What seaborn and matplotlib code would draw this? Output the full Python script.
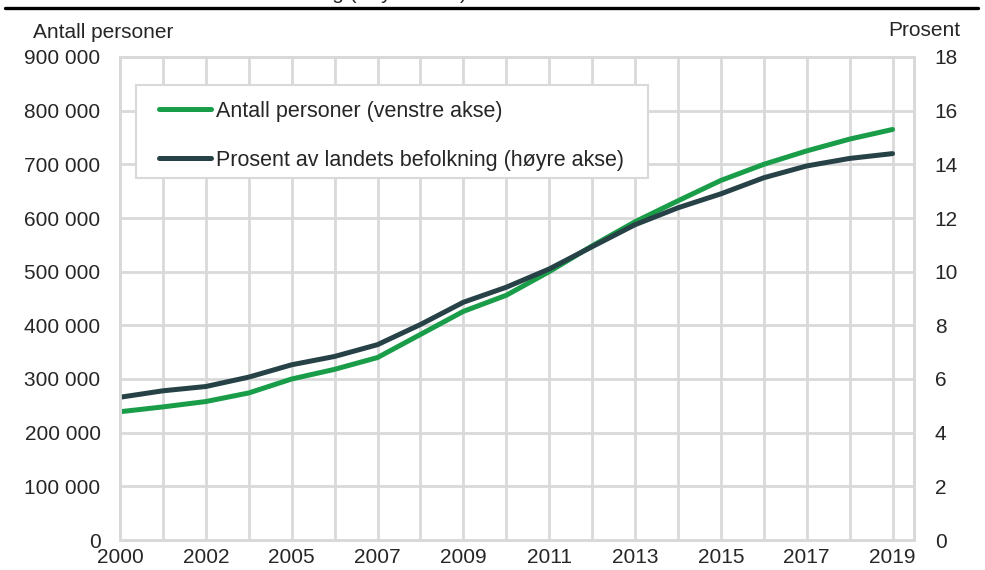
import numpy as np
import pandas as pd
import matplotlib
matplotlib.use("Agg")
import matplotlib.pyplot as plt
from matplotlib.lines import Line2D
from matplotlib.patches import Rectangle
from matplotlib.ticker import FuncFormatter, MultipleLocator
import seaborn as sns

# -------------------------------------------------------------------
# data
# -------------------------------------------------------------------
years = ["2000", "2001", "2002", "2003", "2005", "2006", "2007", "2008", "2009", "2010",
         "2011", "2012", "2013", "2014", "2015", "2016", "2017", "2018", "2019"]
antall = [239000, 248000, 258000, 274000, 300000, 318000, 340000, 383000, 426000, 456000,
          500000, 548000, 593000, 632000, 670000, 700000, 725000, 747000, 765000]
prosent = [5.32, 5.56, 5.72, 6.07, 6.53, 6.84, 7.28, 8.03, 8.86, 9.42,
           10.1, 10.93, 11.75, 12.38, 12.9, 13.5, 13.94, 14.22, 14.4]

lbl_antall = "Antall personer (venstre akse)"
lbl_prosent = "Prosent av landets befolkning (høyre akse)"

GREEN = "#1a9d49"
DARK = "#274247"
GRID = "#d9d9d9"

sns.set_theme(style="white")
plt.rcParams["font.family"] = ["Liberation Sans", "DejaVu Sans"]
plt.rcParams["font.size"] = 15

df = pd.DataFrame({"pos": range(len(years)), "year": years,
                   "antall": antall, "prosent": prosent})

fig = plt.figure(figsize=(9.85, 5.70), dpi=100)
ax = fig.add_axes([120 / 985, 1 - 540 / 570, 794 / 985, 483 / 570])
ax2 = ax.twinx()

sns.lineplot(data=df, x="pos", y="antall", ax=ax, color=GREEN, lw=3.6,
             solid_capstyle="round", label=lbl_antall, legend=False)
sns.lineplot(data=df, x="pos", y="prosent", ax=ax2, color=DARK, lw=3.6,
             solid_capstyle="round", label=lbl_prosent, legend=False)

# x axis: en gridlinje per kategori, etikett på hver andre
ax.set_xlim(0, len(years) - 0.5)
ax.set_xticks(df["pos"])
ax.set_xticklabels([y if i % 2 == 0 else "" for i, y in enumerate(years)])
ax.set_xlabel("")

ax.set_ylim(0, 900000)
ax.yaxis.set_major_locator(MultipleLocator(100000))
ax.yaxis.set_major_formatter(FuncFormatter(lambda v, p: f"{v:,.0f}".replace(",", " ")))
ax.set_ylabel("")

ax2.set_ylim(0, 18)
ax2.yaxis.set_major_locator(MultipleLocator(2))
ax2.set_ylabel("")

ax.grid(True, color=GRID, lw=2)
ax.tick_params(axis="x", length=0, pad=6, labelsize=15)
ax.tick_params(axis="y", length=0, pad=14, labelsize=15)
ax2.tick_params(axis="y", length=0, pad=15, labelsize=15)
for a in (ax, ax2):
    for s in a.spines.values():
        s.set_color(GRID)
        s.set_linewidth(2)

# aksetitler øverst
fig.text(33 / 985, 1 - 32 / 570, "Antall personer", ha="left", va="center", fontsize=15)
fig.text(960 / 985, 1 - 30 / 570, "Prosent", ha="right", va="center", fontsize=15)

# legend (egen boks for å få riktig luft rundt)
ax2.add_patch(Rectangle((16 / 794, (540 - 178) / 483), 512 / 794, 93 / 483,
                        transform=ax2.transAxes, facecolor="white",
                        edgecolor=GRID, lw=1.5, zorder=4))
h1, l1 = ax.get_legend_handles_labels()
h2, l2 = ax2.get_legend_handles_labels()
leg = ax2.legend(h1 + h2, l1 + l2, loc="upper left",
                 bbox_to_anchor=(39 / 794, (540 - 101) / 483), borderaxespad=0,
                 frameon=False, handlelength=2.4, handletextpad=0.25,
                 borderpad=0, labelspacing=1.3, fontsize=15.5)
leg.set_zorder(5)

# avkuttet tittel + strek øverst
fig.text(467 / 985, 1 + 1 / 570,
         "Antall innvandrere. Andel av landets befolkning (høyre akse)",
         ha="right", va="baseline", fontsize=15)
fig.add_artist(Line2D([5 / 985, 978 / 985], [1 - 8 / 570, 1 - 8 / 570],
                      transform=fig.transFigure, color="black", lw=2.4))

fig.savefig("out.png", dpi=100)
